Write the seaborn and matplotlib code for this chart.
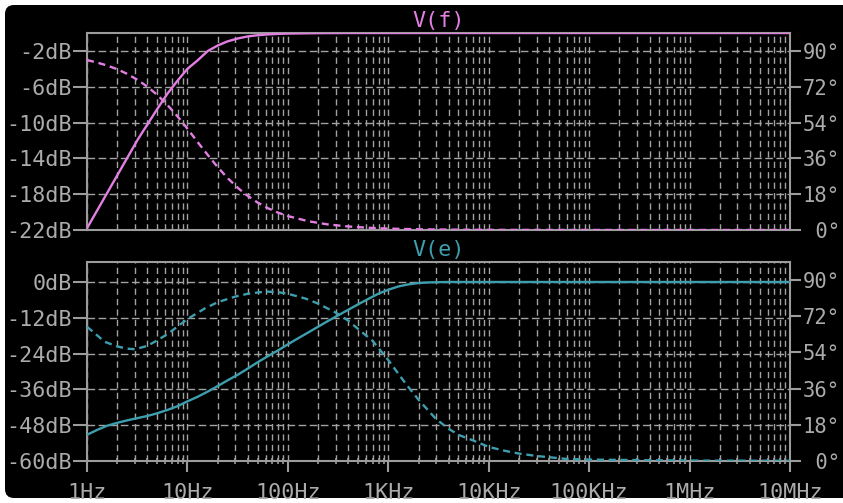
import numpy as np
import matplotlib
matplotlib.use("Agg")
import matplotlib.pyplot as plt
from matplotlib.patches import FancyBboxPatch
from matplotlib.ticker import LogLocator, NullFormatter, FixedLocator
import seaborn as sns

# --- V(f): ---
f_top = [1, 1.25, 1.6, 2, 2.5, 3.2, 4, 5, 6.3, 8, 10, 12.5, 16, 20, 25, 32, 40,
         50, 63, 80, 100, 160, 250, 400, 630, 1e3, 2e3, 5e3, 1e4, 1e5, 1e6, 1e7]
mag_f = [-21.8, -19.9, -17.8, -15.9, -14.0, -11.9, -10.2, -8.5, -6.8, -5.3, -4.0,
         -3.1, -2.0, -1.4, -0.94, -0.6, -0.38, -0.25, -0.16, -0.1, -0.065, -0.03,
         -0.01, 0, 0, 0, 0, 0, 0, 0, 0, 0]
ph_f = [85.4, 84.2, 82.6, 80.8, 78.5, 75.4, 72.0, 67.9, 62.9, 57.0, 50.9, 44.5,
        37.6, 31.6, 26.2, 21.0, 17.1, 13.8, 11.0, 8.7, 7.0, 4.4, 2.8, 1.76, 1.12,
        0.7, 0.35, 0.14, 0.07, 0.01, 0, 0]

# --- V(e): ---
f_mag_e = [1, 1.26, 1.58, 2, 2.5, 3.2, 4, 5, 6.3, 8, 10, 12.6, 15.8, 20, 25, 32,
           40, 50, 63, 80, 100, 126, 158, 200, 250, 316, 400, 500, 630, 800, 1e3,
           1.26e3, 1.58e3, 2e3, 2.5e3, 3.2e3, 4e3, 1e4, 1e7]
mag_e = [-51.2, -49.6, -48.2, -47.2, -46.4, -45.6, -44.9, -44.0, -42.9, -41.6,
         -40.0, -38.5, -36.8, -34.9, -33.0, -31.0, -29.0, -26.9, -24.9, -22.9,
         -20.9, -18.9, -17.0, -15.0, -13.1, -11.2, -9.3, -7.5, -5.7, -3.9, -2.6,
         -1.5, -0.8, -0.35, -0.15, -0.05, 0, 0, 0]
f_ph_e = [1, 1.5, 2, 2.5, 3, 4, 5, 6.5, 8, 10, 15, 20, 30, 40, 60, 80, 100, 150,
          200, 300, 400, 500, 700, 1e3, 1.5e3, 2e3, 3e3, 4e3, 5e3, 7e3, 1e4, 1.5e4,
          2e4, 3e4, 6e4, 1e5, 1e6, 1e7]
ph_e = [66.8, 59.3, 57.0, 55.9, 55.6, 57.3, 60.0, 63.5, 67.0, 70.6, 76.0, 79.0,
        81.8, 83.2, 84.3, 84.0, 83.2, 80.8, 78.3, 73.8, 69.8, 65.7, 59.7, 50.2,
        38.3, 30.5, 20.8, 16.0, 13.0, 10.2, 7.0, 4.9, 3.7, 2.5, 1.0, 0.7, 0.2, 0.1]

decades = [1, 10, 100, 1e3, 1e4, 1e5, 1e6, 1e7]
freq_labels = ["1Hz", "10Hz", "100Hz", "1KHz", "10KHz", "100KHz", "1MHz", "10MHz"]
phase_ticks = [0, 18, 36, 54, 72, 90]
phase_labels = [" 0°", "18°", "36°", "54°", "72°", "90°"]
db_top = [-22, -18, -14, -10, -6, -2]
db_bot = [-60, -48, -36, -24, -12, 0]

PINK = "#e37fe3"
TEAL = "#3d9eae"
GRAY = "#9c9c9c"
GRID = "#a2a2a2"
TXT = "#ababab"

sns.set_style("dark")
plt.rcParams["font.family"] = ["DejaVu Sans Mono"]
plt.rcParams["font.size"] = 15.7

fig = plt.figure(figsize=(8.43, 5.03), dpi=100, facecolor="white")
fig.add_artist(FancyBboxPatch((5, 5), 860, 493, boxstyle="round,pad=0,rounding_size=9",
                              transform=None, facecolor="black", edgecolor="none", zorder=-10))

ax_t = fig.add_axes([87 / 843, 273 / 503, 703 / 843, 197 / 503])
ax_b = fig.add_axes([87 / 843, 42 / 503, 703 / 843, 199 / 503])


def style(ax, ylim, yticks, ylabels, title, color):
    ax.set_facecolor("black")
    ax.set_xscale("log")
    ax.set_xlim(1, 1e7)
    ax.set_ylim(*ylim)
    ax.set_yticks(yticks, ylabels)
    ax.xaxis.set_major_locator(FixedLocator(decades))
    ax.xaxis.set_minor_locator(LogLocator(base=10, subs=np.arange(2, 10), numticks=100))
    ax.xaxis.set_minor_formatter(NullFormatter())
    for s in ax.spines.values():
        s.set_visible(True)
        s.set_color(GRAY)
        s.set_linewidth(1.5)
    ax.grid(False)
    ax.grid(True, which="both", axis="x", color=GRID, lw=1.0, ls=(0, (4.5, 3)))
    ax.grid(True, which="major", axis="y", color=GRID, lw=1.0, ls=(0, (5.5, 2.5)))
    ax.tick_params(axis="y", which="both", direction="out", length=10, width=1.5,
                   color=GRAY, labelcolor=TXT, pad=1, left=True)
    ax.set_title(title, color=color, fontsize=15.7, pad=4)
    tw = ax.twinx()
    tw.set_ylim(0, 99)
    tw.set_yticks(phase_ticks, phase_labels)
    tw.grid(False)
    for s in tw.spines.values():
        s.set_visible(False)
    tw.tick_params(axis="y", direction="out", length=8, width=1.5, color=GRAY,
                   labelcolor=TXT, labelsize=14.8, pad=1, right=True)
    return tw


tw_t = style(ax_t, (-22, 0), db_top, [f"{v}dB" for v in db_top], "V(f)", PINK)
tw_b = style(ax_b, (-60, 6.7), db_bot, [f"{v}dB" for v in db_bot], "V(e)", TEAL)

ax_t.tick_params(axis="x", which="both", length=0, labelbottom=False)
ax_b.set_xticks(decades, freq_labels)
ax_b.tick_params(axis="x", which="major", direction="out", length=8, width=1.5,
                 color=GRAY, labelcolor=TXT, pad=8, bottom=True)
ax_b.tick_params(axis="x", which="minor", direction="inout", length=5, width=1.2,
                 color=GRAY, bottom=True)
for tw in (tw_t, tw_b):
    tw.tick_params(axis="x", which="both", length=0)

sns.lineplot(x=f_top, y=mag_f, ax=ax_t, color=PINK, lw=1.7, zorder=3)
sns.lineplot(x=f_top, y=ph_f, ax=tw_t, color=PINK, lw=1.7, ls=(0, (3, 2)))
sns.lineplot(x=f_mag_e, y=mag_e, ax=ax_b, color=TEAL, lw=1.7, zorder=3)
sns.lineplot(x=f_ph_e, y=ph_e, ax=tw_b, color=TEAL, lw=1.7, ls=(0, (3, 2)))

for a in (ax_t, ax_b, tw_t, tw_b):
    a.set_xlabel("")
    a.set_ylabel("")

fig.savefig("out.png", dpi=100, facecolor="white")
